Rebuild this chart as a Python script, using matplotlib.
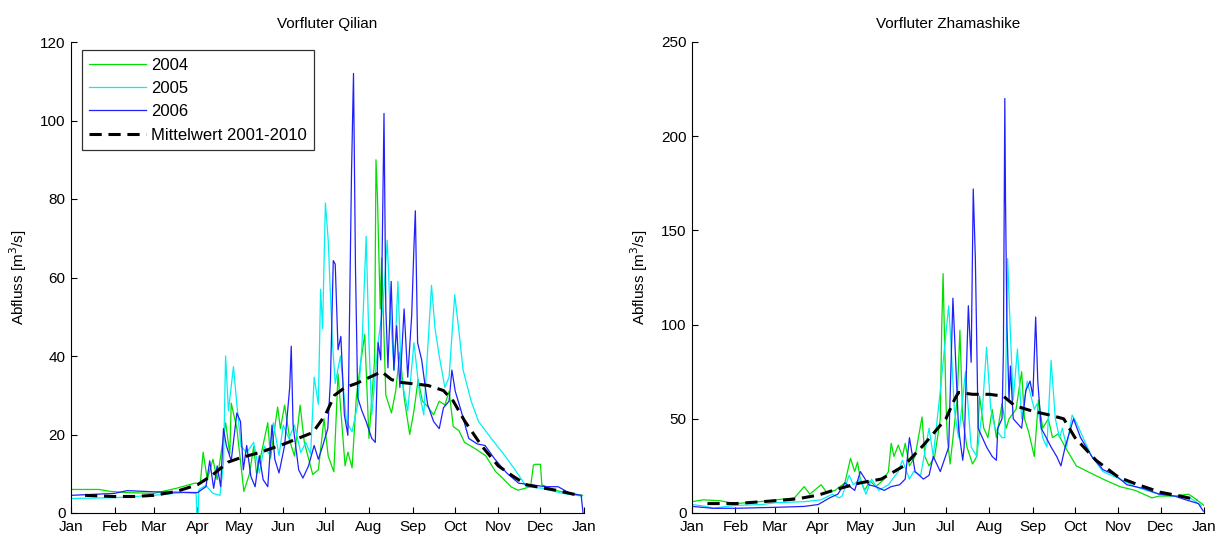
import matplotlib
matplotlib.use("Agg")
import matplotlib.pyplot as plt

plt.rcParams["font.family"] = ["Liberation Sans", "DejaVu Sans"]

# Month starts (day of year) and their labels
MONTH_DAYS = [0, 31, 59, 90, 120, 151, 181, 212, 243, 273, 304, 334, 365]
MONTH_LABELS = ["Jan", "Feb", "Mar", "Apr", "May", "Jun", "Jul", "Aug",
                "Sep", "Oct", "Nov", "Dec", "Jan"]

SERIES_LABELS = ["2004", "2005", "2006", "Mittelwert 2001-2010"]

# --- Vorfluter Qilian: (day of year, discharge m3/s) ---
QILIAN_2004 = [
    (0, 6.0), (20, 6.0), (28, 5.5), (40, 5.2), (59, 5.0), (75, 6.3), (88, 7.6),
    (92, 7.5), (94, 15.5), (97, 8.5), (101, 13.7), (104, 8.5), (110, 23.0),
    (113, 15.0), (114, 28.0), (118, 21.5), (123, 5.5), (127, 10.0), (130, 17.0),
    (132, 10.0), (135, 14.5), (140, 23.0), (142, 14.0), (147, 27.0), (149, 21.5),
    (152, 27.5), (156, 18.0), (159, 14.5), (163, 27.5), (166, 18.0), (172, 9.8),
    (176, 11.0), (180, 24.0), (183, 14.5), (187, 10.5), (190, 35.5), (192, 26.0),
    (195, 12.0), (197, 15.5), (200, 11.5), (203, 29.5), (206, 38.0), (209, 45.5),
    (212, 19.0), (216, 39.0), (217, 90.0), (218, 81.0), (220, 52.0), (221, 65.0),
    (224, 30.0), (228, 25.5), (231, 31.0), (234, 41.0), (237, 29.5), (241, 20.0),
    (244, 26.0), (247, 34.0), (250, 28.5), (254, 27.0), (258, 25.0), (262, 28.5),
    (266, 27.5), (269, 31.0), (272, 22.0), (276, 21.0), (280, 18.0), (288, 16.3),
    (295, 14.6), (302, 10.6), (307, 8.9), (313, 6.7), (318, 5.8), (327, 6.7),
    (329, 12.2), (330, 12.4), (334, 12.4), (335, 7.2), (344, 5.8), (355, 5.0),
    (364, 4.5),
]
QILIAN_2005 = [
    (0, 3.7), (31, 3.9), (59, 4.5), (80, 5.2), (89, 5.0), (89.5, 0.0), (90.5, 0.0),
    (91, 6.0), (96, 7.0), (101, 5.0), (106, 4.5), (108.5, 12.8), (110, 40.0),
    (112, 26.0), (115.6, 37.3), (118, 27.7), (121, 17.0), (125, 15.4), (130, 18.0),
    (134, 10.2), (137.6, 17.0), (141, 15.0), (144, 23.0), (148, 14.6), (151, 22.4),
    (155, 19.0), (159, 22.4), (163.5, 15.4), (167, 18.0), (170.5, 15.0),
    (173, 34.6), (176, 27.7), (177.6, 57.0), (179, 47.0), (181, 79.0), (183, 69.5),
    (186, 43.4), (188, 33.0), (191.7, 40.0), (196, 23.3), (200, 20.7), (204, 27.7),
    (207, 42.5), (210, 70.5), (212, 43.4), (214, 25.0), (218.5, 43.4), (222, 53.0),
    (225, 69.5), (227, 51.6), (230, 36.4), (232.6, 59.0), (235, 34.6),
    (239.6, 26.0), (244, 43.4), (248, 30.3), (251, 25.0), (256.5, 58.0),
    (259, 47.0), (262, 40.0), (266, 32.0), (269, 34.6), (273, 55.6), (275.6, 47.7),
    (279, 36.4), (284.7, 28.5), (290, 23.3), (299, 19.0), (307, 15.4), (316, 11.0),
    (324, 6.7), (335.6, 6.3), (349.6, 5.0), (363.6, 4.3),
]
QILIAN_2006 = [
    (0, 4.5), (31, 5.0), (40, 5.7), (59, 5.4), (90, 5.2), (96, 6.7), (98.7, 13.3),
    (101.5, 6.3), (104, 12.0), (106.5, 6.7), (108.5, 21.5), (110.5, 17.2),
    (114, 13.3), (118, 25.5), (120.6, 23.3), (122.6, 11.0), (125, 17.2), (128, 9.3),
    (131, 6.7), (134, 14.6), (136.7, 8.5), (140, 6.7), (143, 22.4), (145, 13.7),
    (148, 10.2), (152, 17.2), (155.6, 32.0), (156.7, 42.5), (158, 22.4), (162, 11.0),
    (165, 8.9), (169, 12.0), (173, 17.2), (176, 13.7), (179, 17.0), (182.7, 21.5),
    (184.6, 33.8), (186.6, 64.3), (188, 63.4), (190, 41.6), (192, 45.0),
    (194.5, 25.0), (197, 19.8), (199.6, 87.0), (201, 112.0), (202.4, 62.6),
    (204, 29.4), (207, 26.0), (210, 23.3), (214, 19.0), (216.5, 18.0),
    (218.5, 43.4), (220.4, 39.0), (222.7, 101.8), (224, 52.0), (225.5, 37.0),
    (227.8, 59.0), (229.7, 36.4), (231.7, 47.7), (234, 32.0), (237, 52.0),
    (239.6, 34.6), (242.4, 50.3), (244, 67.8), (245, 77.0), (246.6, 43.4),
    (249.5, 39.0), (253.7, 27.7), (258, 23.3), (262, 21.5), (265, 26.8),
    (269, 28.5), (271, 36.4), (273.4, 31.0), (277.6, 26.0), (283, 19.0),
    (289, 17.6), (294.6, 17.2), (301.6, 13.7), (310, 10.2), (318.5, 7.6),
    (327, 7.2), (338, 6.7), (346.6, 6.7), (355, 5.0), (363, 4.5), (364.3, 0.0),
]
QILIAN_MEAN = [
    (10, 4.5), (31, 4.2), (45, 4.2), (59, 4.5), (75, 5.5), (90, 7.2), (100, 9.5),
    (112, 13.0), (120, 14.0), (135, 15.5), (151, 17.5), (165, 19.5), (172, 20.5),
    (181, 25.0), (187.5, 30.0), (195, 32.0), (203, 33.0), (212, 34.5), (221, 36.0),
    (228, 34.0), (234, 33.3), (254, 32.5), (265, 31.2), (272, 28.5), (280, 23.5),
    (292, 17.2), (304, 12.0), (314, 9.5), (324, 7.2), (334, 6.5), (345, 5.8),
    (355, 5.0), (360, 4.6),
]

# --- Vorfluter Zhamashike: (day of year, discharge m3/s) ---
ZHAMASHIKE_2004 = [
    (0, 6), (8, 7), (20, 6.5), (31, 5), (48, 6), (60, 7), (73, 8), (80, 14), (84, 10),
    (92, 15), (96, 11), (102, 12), (109, 16), (113, 29), (116, 22), (118, 27),
    (120, 18), (123, 12), (127, 17), (131, 14), (137, 18), (140, 22), (142, 37),
    (144, 30), (147, 36), (150, 30), (152, 37), (155, 25), (159, 30), (164, 51),
    (166, 30), (169, 25), (173, 30), (177, 50), (178, 98), (179, 127), (181, 60),
    (182, 40), (184, 26), (189, 60), (191, 97), (193, 50), (196, 35), (200, 26),
    (203, 30), (205, 62), (208, 45), (211, 40), (214, 55), (217, 40), (221, 58),
    (224, 45), (226, 50), (231, 55), (235, 75), (237, 50), (240, 43), (244, 30),
    (247, 60), (250, 45), (254, 50), (257, 40), (261, 42), (266, 35), (270, 30),
    (274, 25), (282, 22), (293, 18), (305, 14), (316, 12), (328, 8), (333, 9),
    (344, 9), (354, 10), (358, 8), (365, 4),
]
ZHAMASHIKE_2005 = [
    (0, 4.5), (10, 3.5), (15, 2.5), (25, 3.5), (31, 4), (50, 4.5), (60, 5.5), (80, 6),
    (92, 7), (100, 10), (105, 8), (107, 9), (112, 20), (115, 15), (120, 18),
    (124, 10), (128, 18), (133, 12), (140, 15), (147, 22), (150, 28), (155, 18),
    (158, 22), (163, 20), (169, 45), (172, 30), (177, 65), (183, 110), (185, 85),
    (187, 55), (190, 40), (195, 75), (199, 35), (203, 30), (207, 55), (210, 88),
    (213, 55), (216, 45), (221, 40), (223, 40), (225, 135), (227, 95), (229, 60),
    (232, 87), (235, 50), (239, 70), (244, 55), (246, 58), (250, 40), (253, 35),
    (256, 81), (259, 50), (262, 40), (264, 45), (267, 35), (271, 52), (274, 48),
    (280, 38), (285, 30), (293, 22), (305, 18), (316, 14), (324, 12), (333, 10),
    (344, 9), (355, 8), (363, 4),
]
ZHAMASHIKE_2006 = [
    (0, 3.5), (15, 2.5), (31, 2.5), (59, 3), (80, 3.5), (90, 4.5), (98, 8), (104, 10),
    (109, 16), (116, 12), (120, 22), (126, 15), (131, 14), (137, 12), (142, 14),
    (148, 15), (152, 18), (155, 40), (159, 22), (165, 18), (169, 20), (172, 30),
    (177, 22), (183, 35), (186, 114), (188, 80), (190, 45), (193, 28), (194, 35),
    (197, 110), (199, 80), (200.5, 172), (202, 135), (204, 45), (210, 35),
    (214, 30), (217, 28), (218, 45), (221, 50), (222, 86), (223, 220),
    (223.5, 166), (224.5, 100), (226, 60), (227, 78), (229, 50), (235, 45),
    (238, 65), (241, 70), (243, 62), (245, 104), (246.5, 70), (249, 45), (256, 35),
    (260, 30), (263, 25), (266, 35), (270, 45), (272, 50), (277, 40), (285, 30),
    (293, 23), (302, 20), (310, 15), (322, 13), (333, 10), (344, 9), (352, 7),
    (361, 5), (364.5, 1),
]
ZHAMASHIKE_MEAN = [
    (11, 5), (31, 5), (59, 6.5), (75, 7.5), (90, 9.5), (105, 13), (120, 16),
    (135, 18), (151, 25), (165, 36), (181, 50), (187, 60), (190, 64), (200, 63),
    (212, 63), (222, 62), (230, 57), (243, 54), (255, 52), (265, 50), (273, 40),
    (288, 28), (304, 19), (318, 15), (334, 11), (348, 9), (360, 7),
]

COLORS = ["#00e000", "#00f0f0", "#2020ff", "black"]
FS = 11


def draw_panel(ax, title, series, mean, ymax, ystep, legend=False):
    for data, color, label in zip(series, COLORS[:3], SERIES_LABELS[:3]):
        d, v = zip(*data)
        ax.plot(d, v, color=color, lw=0.9, label=label)
    d, v = zip(*mean)
    ax.plot(d, v, color=COLORS[3], lw=2.2, ls=(0, (4, 2.2)), label=SERIES_LABELS[3])

    ax.set_xlim(0, 365)
    ax.set_ylim(0, ymax)
    ax.set_xticks(MONTH_DAYS)
    ax.set_xticklabels(MONTH_LABELS)
    ax.set_yticks(range(0, ymax + 1, ystep))
    for side in ("top", "right"):
        ax.spines[side].set_visible(False)
    for side in ("left", "bottom"):
        ax.spines[side].set_linewidth(0.8)
    ax.tick_params(direction="in", length=4, width=0.8, labelsize=FS,
                   top=False, right=False)
    ax.tick_params(axis="x", pad=5)
    ax.tick_params(axis="y", pad=4)
    ax.set_title(title, fontsize=FS, pad=10)
    ax.set_ylabel("Abfluss [m$^3$/s]", fontsize=FS)
    ax.yaxis.set_label_coords(-0.082, 0.5)
    if legend:
        leg = ax.legend(loc="upper left", bbox_to_anchor=(0.0214, 0.983),
                        borderaxespad=0, fontsize=12, frameon=True,
                        fancybox=False, handlelength=3.4, handletextpad=0.3,
                        labelspacing=0.5, borderpad=0.45)
        leg.get_frame().set_edgecolor("black")
        leg.get_frame().set_linewidth(0.9)


fig = plt.figure(figsize=(12.25, 5.38), dpi=100)
ax1 = fig.add_axes([71 / 1225, 25 / 538, 513 / 1225, 471 / 538])
ax2 = fig.add_axes([692 / 1225, 25 / 538, 512 / 1225, 471 / 538])

draw_panel(ax1, "Vorfluter Qilian", [QILIAN_2004, QILIAN_2005, QILIAN_2006],
           QILIAN_MEAN, 120, 20, legend=True)
draw_panel(ax2, "Vorfluter Zhamashike",
           [ZHAMASHIKE_2004, ZHAMASHIKE_2005, ZHAMASHIKE_2006],
           ZHAMASHIKE_MEAN, 250, 50)

fig.savefig("out.png", dpi=100)
